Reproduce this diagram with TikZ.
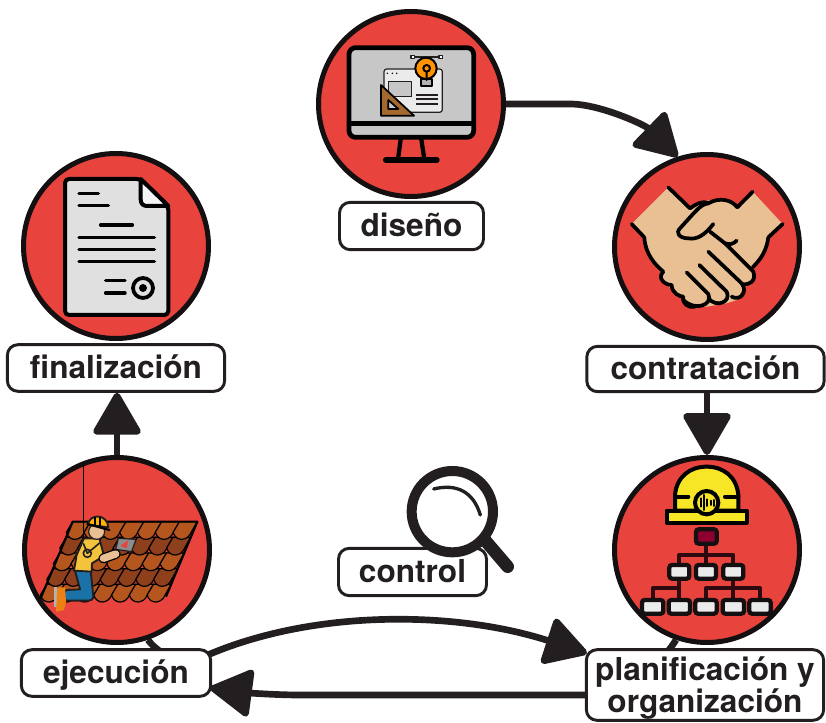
\documentclass[tikz,border=0pt]{standalone}
\usepackage{fontspec}
\setmainfont{TeX Gyre Heros}
\usetikzlibrary{arrows.meta,backgrounds}
\definecolor{ink}{HTML}{231F20}
\definecolor{rim}{HTML}{140F10}
\definecolor{disc}{HTML}{E8443D}
\definecolor{skin}{HTML}{E8C094}
\definecolor{tileA}{HTML}{B5561F}
\definecolor{tileB}{HTML}{8E3F1C}
\definecolor{hat}{HTML}{F7E625}
\definecolor{jeans}{HTML}{1A72A6}
\definecolor{shirt}{HTML}{F5C33B}
\definecolor{orgline}{HTML}{2E0A10}
\tikzset{
  stagecircle/.style={circle,draw=rim,fill=disc,line width=3.75pt,minimum size=138.75pt,inner sep=0pt},
  stagelabel/.style={draw=ink,fill=white,line width=2.2pt,rounded corners=8pt,inner sep=0pt,
    font=\fontsize{23.7pt}{22.5pt}\selectfont\bfseries,text=ink,align=center},
  oneline/.style={text height=20pt,text depth=4pt},
  flowarrow/.style={draw=ink,line width=5pt,-{Triangle[length=34pt,width=38pt,round]}},
  ic/.style={line width=3pt,draw=black,line join=round,line cap=round},
  thin ic/.style={line width=.9pt,draw=ink,line join=round},
  org/.style={line width=3pt,draw=orgline,line join=round},
  orgbox/.style={line width=3.2pt,draw=rim,fill=white!92!black,rounded corners=2pt},
}
\begin{document}
\begin{tikzpicture}[x=0.75pt,y=-0.75pt]
\useasboundingbox (0,0) rectangle (826,723);
% stages
\node[stagecircle] (cdis) at (411,104) {};
\node[stagecircle] (ccon) at (707,247) {};
\node[stagecircle] (cfin) at (116,246) {};
\node[stagecircle] (ceje) at (117,550) {};
\node[stagecircle] (cpla) at (707,550) {};
\node[stagelabel,oneline,minimum width=108pt,minimum height=35.5pt] (ldis) at (411.5,226) {diseño};
\node[stagelabel,oneline,minimum width=178pt,minimum height=34pt] (lcon) at (705.5,369) {contratación};
\node[stagelabel,oneline,minimum width=163pt,minimum height=35pt] (lfin) at (116,368) {finalización};
\node[stagelabel,oneline,minimum width=142pt,minimum height=35pt] (leje) at (116,673) {ejecución};
\node[stagelabel,minimum width=178pt,minimum height=53pt] (lpla) at (705,685) {\rule{0pt}{22pt}planificación y\\organización};
\node[stagelabel,oneline,minimum width=111pt,minimum height=35.5pt] (lctl) at (412.5,572) {control};
% connectors
\begin{pgfonlayer}{background}
\draw[flowarrow] (cdis.east) -- (570,104) .. controls (600,104) and (645,125) .. (ccon.108);
\draw[flowarrow] (cpla.north |- lcon.south) -- (cpla.north);
\draw[flowarrow] (ceje.north) -- (ceje.north |- lfin.south);
\draw[flowarrow] (ceje.-71) .. controls (165,662) and (190,662) .. (210,654)
   .. controls (320,608) and (460,612) .. ([shift={(2,5)}]lpla.north west);
\draw[flowarrow] (cpla.-109) .. controls (650,680) and (620,695) .. (585,695)
   -- (300,695) .. controls (270,695) and (240,692) .. ([shift={(-2,15)}]leje.east);
\end{pgfonlayer}
% magnifier
\begin{scope}[shift={(320,450)},x=0.25pt,y=-0.25pt]
  \draw[line width=9.5pt,draw=ink,line cap=round] (497,273) -- (563,350);
  \draw[line width=7.5pt,draw=ink,fill=white] (397,185) circle (122);
  \draw[line width=2.5pt,draw=ink,line cap=round] (341,117) .. controls (410,100) and (460,125) .. (481,195);
\end{scope}
% monitor
\begin{scope}[shift={(310,0)},x=0.25pt,y=-0.25pt]
  \draw[ic,line width=3.6pt,fill=black!22,rounded corners=5pt] (117,143) rectangle (491,412);
  \fill[black] (117,362) rectangle (491,378);
  \draw[ic,line width=3.2pt] (272,418) -- (264,478) (334,418) -- (343,478);
  \draw[ic,line width=4.6pt] (228,480) -- (380,480);
  \draw[thin ic,fill=black!8,rounded corners=2pt] (222,207) rectangle (397,337);
  \fill[black] (232,220) circle (2.5) (247,220) circle (2.5) (260,220) circle (2.5);
  \draw[thin ic,fill=black!22] (235,245) rectangle (305,290);
  \draw[thin ic,line width=1.3pt] (318,285) -- (385,285) (318,298) -- (385,298) (318,311) -- (385,311);
  \draw[ic,line width=1.3pt,fill=brown!80!black!90!orange] (213,255) -- (213,347) -- (312,347) -- cycle;
  \draw[ic,line width=1.3pt,fill=black!22] (235,300) -- (235,327) -- (265,327) -- cycle;
  \draw[thin ic] (308,171) -- (392,171);
  \draw[thin ic,fill=white] (303,166) rectangle (313,176) (387,166) rectangle (397,176);
  \draw[ic,line width=1.5pt,fill=black!30] (333,238) rectangle (365,258);
  \draw[ic,line width=1.5pt,fill=orange!85!yellow] (348,205) circle (32);
  \draw[ic,line width=1.5pt] (350,205) circle (10) (350,215) -- (350,240);
\end{scope}
% handshake
\begin{scope}[shift={(600,150)},x=0.25pt,y=-0.25pt]
  \fill[skin] (205,112) -- (270,175) .. controls (300,155) and (320,150) .. (345,150)
    .. controls (380,145) and (400,155) .. (412,172) -- (458,125) -- (548,222) -- (505,262)
    .. controls (495,300) and (485,325) .. (458,352) -- (462,385) -- (435,405) -- (410,450)
    -- (380,460) -- (320,470) -- (270,470) -- (235,435) -- (195,400) -- (180,365)
    .. controls (150,335) and (135,310) .. (133,262) -- (95,222) -- cycle;
  \draw[ic,line width=2.8pt] (205,112) -- (270,175) (458,125) -- (412,172) (95,222) -- (133,262)
    (548,222) -- (505,262);
  \draw[ic,line width=2.8pt] (412,172) .. controls (395,150) and (360,140) .. (325,160)
    .. controls (305,150) and (285,165) .. (270,175);
  \draw[ic,line width=2.8pt] (325,160) .. controls (300,165) and (295,175) .. (240,235)
    .. controls (225,250) and (240,265) .. (265,265) .. controls (290,270) and (315,255) .. (340,222);
  \draw[ic,line width=2.8pt] (330,245) -- (375,280) .. controls (390,285) and (400,282) .. (410,272);
  \draw[ic,line width=2.8pt] (375,280) -- (460,365) .. controls (470,395) and (445,405) .. (430,403);
  \draw[ic,line width=2.8pt] (325,305) -- (425,400) .. controls (445,425) and (420,455) .. (395,440);
  \draw[ic,line width=2.8pt] (298,345) -- (380,425) .. controls (395,455) and (350,475) .. (325,445);
  \draw[ic,line width=2.8pt] (260,367) -- (325,432) .. controls (340,465) and (285,485) .. (250,450);
  \draw[ic,line width=2.8pt] (133,262) .. controls (135,310) and (165,345) .. (190,365)
    .. controls (170,385) and (195,405) .. (215,405) .. controls (215,430) and (240,440) .. (250,440)
    .. controls (245,460) and (265,475) .. (285,470);
  \draw[ic,line width=2.8pt] (505,262) .. controls (500,300) and (485,325) .. (458,352);
\end{scope}
% document
\begin{scope}[shift={(10,160)},x=0.25pt,y=-0.25pt]
  \draw[ic,line width=3pt,fill=black!12,rounded corners=3pt] (165,57) -- (392,57) -- (475,138) -- (475,465) -- (165,465) -- cycle;
  \draw[ic,line width=3pt,fill=black!4] (392,57) -- (392,118) .. controls (392,132) and (400,138) .. (412,138) -- (475,138) -- cycle;
  \draw[ic,line width=2.6pt] (207,100) -- (265,100) (207,137) -- (295,137) (272,195) -- (367,195)
    (207,232) -- (433,232) (207,268) -- (433,268) (207,304) -- (433,304)
    (287,362) -- (345,362) (287,399) -- (345,399);
  \draw[ic,line width=2.8pt] (399,384) circle (30);
  \fill[black] (399,384) circle (12);
\end{scope}
% helmet and organisation chart
\begin{scope}[shift={(580,450)},x=0.25pt,y=-0.25pt]
  \draw[ic,fill=hat] (285,182) -- (285,135) .. controls (290,80) and (330,50) .. (380,50)
    .. controls (430,50) and (470,80) .. (475,135) -- (475,182) -- cycle;
  \draw[ic,fill=hat] (260,182) rectangle (500,218);
  \draw[ic] (285,140) -- (325,140) (435,140) -- (475,140);
  \draw[ic,fill=hat] (380,158) circle (35);
  \draw[ic,line width=1.5pt] (362,145) -- (362,170) (372,135) -- (372,180) (382,148) -- (382,168) (392,152) -- (392,165) (402,150) -- (402,168);
  \draw[org] (378,282) -- (378,345) (298,345) -- (298,314) -- (460,314) -- (460,345);
  \draw[org] (298,385) -- (298,450) (218,450) -- (218,415) -- (298,415);
  \draw[org] (460,385) -- (460,450) (378,450) -- (378,415) -- (540,415) -- (540,450);
  \draw[orgbox,fill=purple!75!black] (348,238) rectangle (410,281);
  \foreach \cx in {298,378,460} \draw[orgbox] (\cx-30,345) rectangle (\cx+30,386);
  \foreach \cx in {218,298,378,460,540} \draw[orgbox] (\cx-32,450) rectangle (\cx+32,491);
\end{scope}
% roof and worker
\begin{scope}[shift={(0,450)},x=0.25pt,y=-0.25pt]
  \foreach \r in {4,3,2,1,0} {
    \pgfmathsetmacro{\ty}{215+47*\r}
    \pgfmathsetmacro{\tx}{218-19.5*\r}
    \pgfmathtruncatemacro{\odd}{mod(\r,2)}
    \ifnum\odd=1 \colorlet{tilecol}{tileB}\else\colorlet{tilecol}{tileA}\fi
    \foreach \c in {0,...,6} {
      \pgfmathsetmacro{\xa}{\tx+53.4*\c}
      \filldraw[fill=tilecol,draw=black,line width=.9pt]
        (\xa,\ty) -- (\xa+53.4,\ty) -- (\xa+35,\ty+32)
        .. controls (\xa+25,\ty+58) and (\xa-10,\ty+62) .. (\xa-19,\ty+32) -- cycle;
    }
  }
  \draw[line width=1.6pt,draw=black,line join=round] (122,445) -- (218,215) -- (592,215) -- (498,440);
  % rope
  \draw[line width=1.1pt,draw=black] (250,45) -- (250,262);
  % trowel
  \draw[thin ic,fill=black!45] (355,265) -- (408,268) -- (395,305) -- (347,298) -- cycle;
  \fill[disc] (362,287) -- (385,270) -- (380,295) -- cycle;
  % legs
  \draw[thin ic,line width=1.4pt,fill=jeans] (225,362) -- (272,362) -- (280,440)
    .. controls (278,450) and (272,452) .. (265,452) -- (200,452) .. controls (188,450) and (188,422) .. (200,420)
    -- (240,418) -- cycle;
  % boot
  \fill[black!30] (162,412) rectangle (172,470);
  \fill[orange!70!brown] (172,412) -- (195,412) -- (198,455) -- (192,480) -- (168,485) -- cycle;
  % torso
  \draw[thin ic,line width=1.4pt,fill=shirt] (252,265) -- (298,265) -- (312,318) -- (276,340) -- (275,365) -- (222,362) -- (230,315) -- cycle;
  \draw[thin ic,line width=1.2pt] (250,280) -- (262,310) -- (300,278) (262,310) circle (12);
  % forearm
  \draw[line width=7.5pt,draw=black,line cap=round] (310,325) -- (347,312);
  \draw[line width=5.5pt,draw=skin,line cap=round] (310,325) -- (347,312);
  % head and helmet
  \draw[thin ic,fill=skin] (290,245) ellipse (24 and 23);
  \draw[thin ic,line width=1.4pt,fill=orange!60!yellow] (264,224) .. controls (268,190) and (322,190) .. (325,232) -- cycle;
  \draw[line width=1.6pt,draw=black,line cap=round] (262,222) -- (328,240);
  \draw[line width=1pt,draw=black] (285,200) -- (285,228) (300,200) -- (300,232);
\end{scope}
\end{tikzpicture}
\end{document}
